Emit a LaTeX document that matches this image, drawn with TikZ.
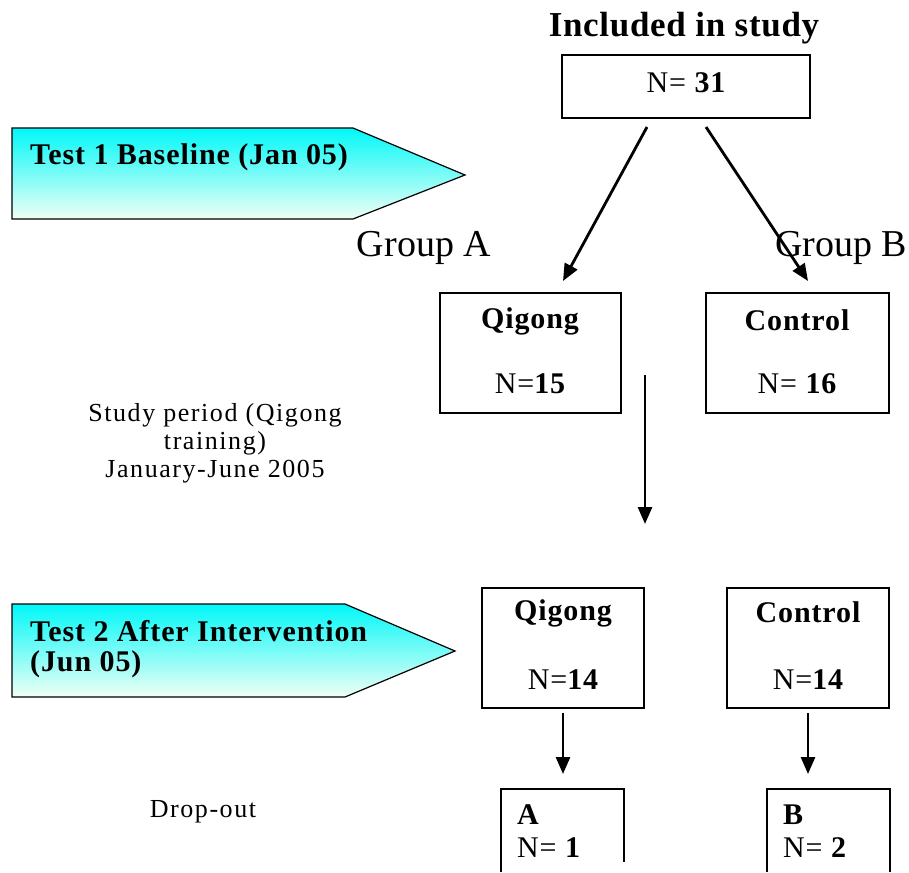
\documentclass[tikz,border=0pt]{standalone}
\usepackage{fontspec}
\setmainfont{Liberation Serif}
\usetikzlibrary{arrows.meta}
\definecolor{cyantop}{RGB}{0,248,248}
\definecolor{cyanbot}{RGB}{240,255,245}
\tikzset{
  box/.style={draw=black, line width=1.2pt, rectangle, inner sep=0pt},
  arr/.style={line width=2.8pt, -{Triangle[length=17pt,width=14pt]}},
  bigbold/.style={font=\fontsize{30}{34}\selectfont\bfseries\addfontfeature{LetterSpace=3}, inner sep=0pt},
  txt/.style={font=\fontsize{26}{28}\selectfont\addfontfeature{LetterSpace=6}, inner sep=0pt, align=center},
  grp/.style={font=\fontsize{38}{40}\selectfont, inner sep=0pt},
  banner/.style={draw=black, line width=1.2pt, top color=cyantop, bottom color=cyanbot}
}
\begin{document}
\begin{tikzpicture}[x=1pt,y=-1pt]
\useasboundingbox (0,0) rectangle (909,872);
% title
\node[font=\fontsize{35}{40}\selectfont\bfseries\addfontfeature{LetterSpace=2}, inner sep=0pt] (title) at (684,28) {Included in study};
\node[box, minimum width=248pt, minimum height=63pt] (top) at (686,86.5) {};
\node[bigbold] (toptxt) at (686,83) {\mdseries N= \bfseries 31};
% banners
\path[banner] (12,128) -- (353,128) -- (465,175) -- (353,219) -- (12,219) -- cycle;
\node[bigbold, anchor=west] (t1) at (30,157) {Test 1 Baseline (Jan 05)};
\path[banner] (12,604) -- (345,604) -- (455,651) -- (345,697) -- (12,697) -- cycle;
\node[bigbold, anchor=west] (t2a) at (30,631) {Test 2 After Intervention};
\node[bigbold, anchor=west] (t2b) at (30,664) {(Jun 05)};
% groups
\node[grp] (ga) at (424,248) {Group A};
\node[grp] (gb) at (841,248) {Group B};
% middle boxes
\node[box, minimum width=181pt, minimum height=120pt] (q1) at (530.5,353) {};
\node[bigbold] (q1a) at (530,321) {Qigong};
\node[bigbold] (q1b) at (530,384) {\mdseries N=\bfseries 15};
\node[box, minimum width=183pt, minimum height=120pt] (c1) at (797.5,353) {};
\node[bigbold] (c1a) at (797,320) {Control};
\node[bigbold] (c1b) at (797,384) {\mdseries N= \bfseries 16};
% arrows from top
\coordinate (a1s) at (647,127); \coordinate (a1e) at (563,281);
\coordinate (a2s) at (706,127); \coordinate (a2e) at (808,281);
\draw[arr] (a1s) -- (a1e);
\draw[arr] (a2s) -- (a2e);
% study period
\node[txt] (sp) at (215,443) {Study period (Qigong\\training)\\January-June 2005};
\coordinate (vs) at (645,375); \coordinate (ve) at (645,524);
\draw[arr] (vs) -- (ve);
% lower boxes
\node[box, minimum width=162pt, minimum height=120pt] (q2) at (563,648) {};
\node[bigbold] (q2a) at (563,613) {Qigong};
\node[bigbold] (q2b) at (563,680) {\mdseries N=\bfseries 14};
\node[box, minimum width=162pt, minimum height=120pt] (c2) at (808,648) {};
\node[bigbold] (c2a) at (808,612) {Control};
\node[bigbold] (c2b) at (808,680) {\mdseries N=\bfseries 14};
\coordinate (b1s) at (563,713); \coordinate (b1e) at (563,774);
\coordinate (b2s) at (808,713); \coordinate (b2e) at (808,774);
\draw[arr] (b1s) -- (b1e);
\draw[arr] (b2s) -- (b2e);
% drop-out
\node[txt] (drop) at (203,812) {Drop-out};
\draw[line width=1.2pt] (501,872) -- (501,789) -- (624,789) -- (624,862);
\node[bigbold, anchor=west] (ta) at (517,815) {A};
\node[bigbold, anchor=west] (tna) at (517,848) {\mdseries N= \bfseries 1};
\draw[line width=1.2pt] (767,872) -- (767,789) -- (890,789) -- (890,872);
\node[bigbold, anchor=west] (tb) at (783,815) {B};
\node[bigbold, anchor=west] (tnb) at (783,848) {\mdseries N= \bfseries 2};
\end{tikzpicture}
\end{document}
